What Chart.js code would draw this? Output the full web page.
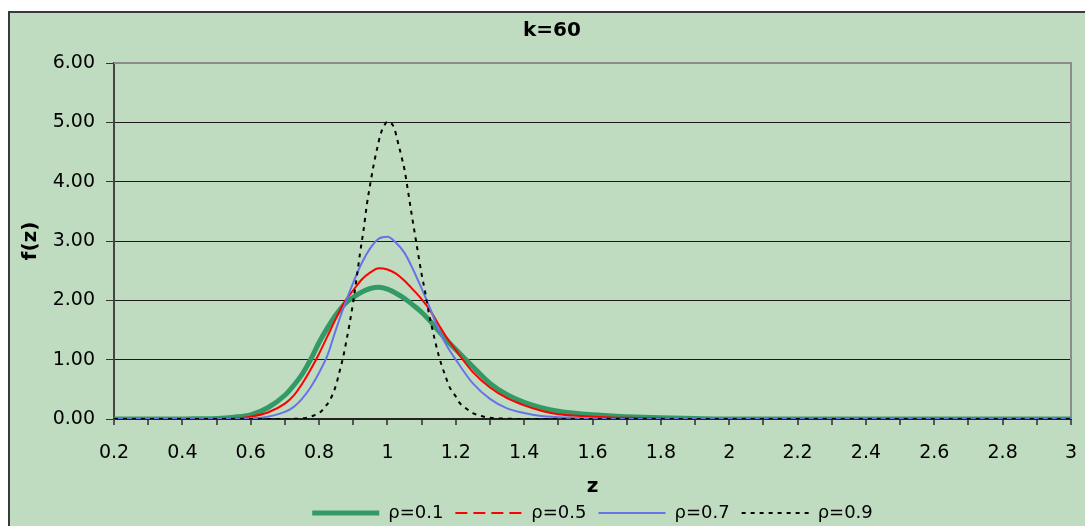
<!DOCTYPE html>
<html>
<head>
<meta charset="utf-8">
<script src="https://cdn.jsdelivr.net/npm/chart.js@4.4.1/dist/chart.umd.min.js"></script>
<style>
  body { margin: 0; background: #fff; overflow: hidden; }
  #frame { position: absolute; left: 8px; top: 11px; width: 1100px; height: 540px; border: 2px solid #3a3a3a; background: #c0dcc0; }
  #holder { position: absolute; left: 0; top: 0; }
</style>
</head>
<body>
<div id="frame"></div>
<div id="holder"><canvas id="theChart" width="1085" height="532"></canvas></div>
<script>
// z values shared by the three smoother curves
var zCoarse = [0.2, 0.3, 0.4, 0.45, 0.5, 0.55, 0.6, 0.65, 0.7,
  0.725, 0.75, 0.775, 0.8, 0.825, 0.85, 0.875, 0.9, 0.925, 0.95, 0.975, 1.0, 1.025, 1.05, 1.075, 1.1, 1.125, 1.15, 1.175, 1.2,
  1.25, 1.3, 1.35, 1.4, 1.45, 1.5,
  1.6, 1.7, 1.8, 1.9, 2.0, 2.5, 3.0];
var f01 = [0, 0, 0, 0.005, 0.01, 0.03, 0.07, 0.19, 0.40,
  0.56, 0.75, 1.00, 1.29, 1.54, 1.76, 1.94, 2.05, 2.14, 2.20, 2.22, 2.19, 2.12, 2.03, 1.92, 1.80, 1.65, 1.48, 1.32, 1.17,
  0.88, 0.60, 0.41, 0.28, 0.19, 0.13,
  0.07, 0.04, 0.02, 0.01, 0, 0, 0];
var f05 = [0, 0, 0, 0, 0.003, 0.01, 0.04, 0.11, 0.26,
  0.39, 0.59, 0.83, 1.10, 1.40, 1.70, 1.98, 2.17, 2.35, 2.47, 2.54, 2.52, 2.45, 2.33, 2.18, 2.02, 1.83, 1.59, 1.36, 1.16,
  0.79, 0.53, 0.35, 0.23, 0.14, 0.08,
  0.04, 0.02, 0.01, 0, 0, 0, 0];
var f07 = [0, 0, 0, 0, 0, 0.003, 0.01, 0.04, 0.12,
  0.20, 0.34, 0.53, 0.78, 1.08, 1.52, 1.93, 2.30, 2.63, 2.88, 3.04, 3.07, 2.97, 2.80, 2.52, 2.20, 1.86, 1.50, 1.22, 1.00,
  0.60, 0.34, 0.18, 0.10, 0.05, 0.03,
  0.01, 0, 0, 0, 0, 0, 0];
// the rho=0.9 curve is narrow, so it gets its own finer z values
var zFine = [0.2, 0.5, 0.6, 0.7, 0.75, 0.775, 0.8,
  0.81, 0.82, 0.83, 0.84, 0.85, 0.86, 0.87, 0.88, 0.89, 0.9, 0.91, 0.92, 0.93, 0.94, 0.95, 0.96, 0.97, 0.98, 0.99,
  1.0, 1.01, 1.02, 1.03, 1.04, 1.05, 1.06, 1.07, 1.08, 1.09, 1.1, 1.11, 1.12, 1.13, 1.14, 1.15, 1.16, 1.17, 1.18, 1.19, 1.2,
  1.21, 1.225, 1.25, 1.275, 1.3, 1.35, 1.4, 1.5, 2.0, 2.5, 3.0];
var f09 = [0, 0, 0, 0.001, 0.01, 0.04, 0.10,
  0.15, 0.22, 0.30, 0.42, 0.58, 0.80, 1.03, 1.32, 1.63, 1.98, 2.38, 2.80, 3.18, 3.62, 3.97, 4.29, 4.56, 4.80, 4.94,
  5.01, 4.99, 4.90, 4.68, 4.45, 4.20, 3.85, 3.48, 3.13, 2.78, 2.44, 2.15, 1.82, 1.55, 1.30, 1.07, 0.88, 0.72, 0.56, 0.46, 0.38,
  0.28, 0.20, 0.10, 0.05, 0.02, 0.005, 0, 0, 0, 0, 0];

var seriesLabels = ['\u03c1=0.1', '\u03c1=0.5', '\u03c1=0.7', '\u03c1=0.9'];
var xTickLabels = ['0.2', '0.4', '0.6', '0.8', '1', '1.2', '1.4', '1.6', '1.8', '2', '2.2', '2.4', '2.6', '2.8', '3'];
var yTickLabels = ['0.00', '1.00', '2.00', '3.00', '4.00', '5.00', '6.00'];

function pairs(xs, ys) {
    return xs.map(function (x, i) { return { x: x, y: ys[i] }; });
}

// gray frame on the top and right of the plot area
var plotFrame = {
    id: 'plotFrame',
    beforeDatasetsDraw: function (chart) {
        var a = chart.chartArea, ctx = chart.ctx;
        ctx.save();
        ctx.strokeStyle = '#8c8c8c';
        ctx.lineWidth = 2;
        ctx.beginPath();
        ctx.moveTo(a.left, a.top);
        ctx.lineTo(a.right, a.top);
        ctx.lineTo(a.right, a.bottom);
        ctx.stroke();
        ctx.restore();
    }
};

// dashes only shown in the legend for the red series
var legendDash = [[], [12, 6], [], [4, 5]];

Chart.defaults.font.family = "'DejaVu Sans'";
Chart.defaults.color = '#000';

var ctx = document.getElementById('theChart').getContext('2d');
var chart = new Chart(ctx, {
    type: 'line',
    data: {
        datasets: [
            { label: seriesLabels[0], data: pairs(zCoarse, f01), borderColor: '#339966', borderWidth: 5, order: 4 },
            { label: seriesLabels[1], data: pairs(zCoarse, f05), borderColor: '#ff0000', borderWidth: 2, order: 3 },
            { label: seriesLabels[2], data: pairs(zCoarse, f07), borderColor: '#6674e6', borderWidth: 2, order: 2 },
            { label: seriesLabels[3], data: pairs(zFine, f09), borderColor: '#000000', borderWidth: 2, borderDash: [4, 5], order: 1 }
        ]
    },
    options: {
        responsive: false,
        animation: false,
        layout: { padding: { left: 33, right: 14, top: 0, bottom: 0 } },
        elements: {
            point: { radius: 0 },
            line: { cubicInterpolationMode: 'monotone', fill: false }
        },
        plugins: {
            title: {
                display: true,
                text: 'k=60',
                font: { size: 20, weight: 'bold' },
                padding: { top: 19, bottom: 20 }
            },
            legend: {
                position: 'bottom',
                fullSize: false,
                labels: {
                    usePointStyle: true,
                    pointStyle: 'line',
                    pointStyleWidth: 67,
                    padding: 12,
                    font: { size: 18 },
                    sort: function (a, b) { return a.datasetIndex - b.datasetIndex; },
                    generateLabels: function (c) {
                        var items = Chart.defaults.plugins.legend.labels.generateLabels(c);
                        items.forEach(function (it) { it.lineDash = legendDash[it.datasetIndex]; });
                        return items;
                    }
                }
            },
            tooltip: { enabled: false }
        },
        scales: {
            x: {
                type: 'linear',
                min: 0.2,
                max: 3,
                afterFit: function (scale) { scale.height = 73; },
                ticks: {
                    stepSize: 0.1,
                    autoSkip: false,
                    maxRotation: 0,
                    padding: 2,
                    font: { size: 19, lineHeight: 2.7 },
                    callback: function (v) {
                        var s = xTickLabels.find(function (l) { return Math.abs(parseFloat(l) - v) < 1e-6; });
                        return s === undefined ? '' : s;
                    }
                },
                grid: { drawOnChartArea: false, tickLength: 6, tickColor: '#555', lineWidth: 2 },
                border: { color: '#222', width: 2 },
                title: { display: true, text: 'z', font: { size: 20, weight: 'bold', lineHeight: 0.5 }, padding: 0 }
            },
            y: {
                min: 0,
                max: 6,
                afterFit: function (scale) { scale.width = 81; },
                ticks: {
                    stepSize: 1,
                    padding: 11,
                    font: { size: 19 },
                    callback: function (v, i) { return yTickLabels[i]; }
                },
                grid: { color: '#1a1a1a', lineWidth: 1, tickLength: 8, tickColor: '#333' },
                border: { color: '#444', width: 2 },
                title: { display: true, text: 'f(z)', font: { size: 20, weight: 'bold' }, padding: { top: -14 } }
            }
        }
    },
    plugins: [plotFrame]
});
</script>
</body>
</html>
